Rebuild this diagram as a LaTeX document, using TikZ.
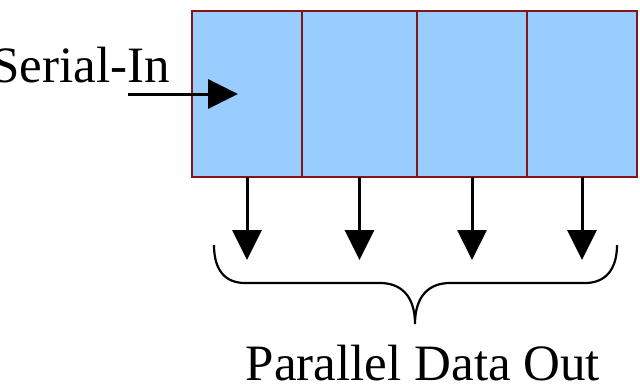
\documentclass[tikz,border=0pt]{standalone}
\usepackage{fontspec}
\setmainfont{Liberation Serif}
\usetikzlibrary{arrows.meta}
\definecolor{cellfill}{HTML}{99CCFF}
\definecolor{cellline}{RGB}{135,20,20}
\tikzset{
  cell/.style={draw=cellline, line width=2.2pt, fill=cellfill, minimum height=166pt, inner sep=0pt, outer sep=0pt},
  flow/.style={line width=3pt, -{Triangle[length=30pt,width=29pt]}},
  label/.style={font=\fontsize{51}{60}\selectfont, inner sep=0pt}
}
\begin{document}
\begin{tikzpicture}[x=1pt,y=-1pt]
  \useasboundingbox (0,0) rectangle (640,383);
  % the four register cells
  \node[cell, minimum width=110pt, anchor=north west] (c1) at (192,11) {};
  \node[cell, minimum width=115pt, anchor=north west] (c2) at (c1.north east) {};
  \node[cell, minimum width=110pt, anchor=north west] (c3) at (c2.north east) {};
  \node[cell, minimum width=110pt, anchor=north west] (c4) at (c3.north east) {};
  % serial input
  \node[label, anchor=base east] (sin) at (170,82) {Serial-In};
  \coordinate (inStart) at (128,94);
  \coordinate (inEnd) at (238,94);
  \draw[flow] (inStart) -- (inEnd);
  % parallel outputs
  \foreach \c in {c1,c2,c3,c4}{
    \coordinate (\c out) at ([yshift=-83pt]\c.south);
    \draw[flow] (\c.south) -- (\c out);
  }
  % brace under the outputs
  \coordinate (bl) at (214,245);
  \coordinate (br) at (617,245);
  \coordinate (tip) at (415,324);
  \draw[line width=2.2pt]
    (bl) .. controls (214,270) and (225,283) .. (245,283)
    -- (380,283) .. controls (400,283) and (415,295) .. (tip)
    (tip) .. controls (415,295) and (430,283) .. (450,283)
    -- (585,283) .. controls (605,283) and (617,270) .. (br);
  % caption
  \node[label, anchor=base] (pout) at (423,380) {Parallel Data Out};
\end{tikzpicture}
\end{document}
